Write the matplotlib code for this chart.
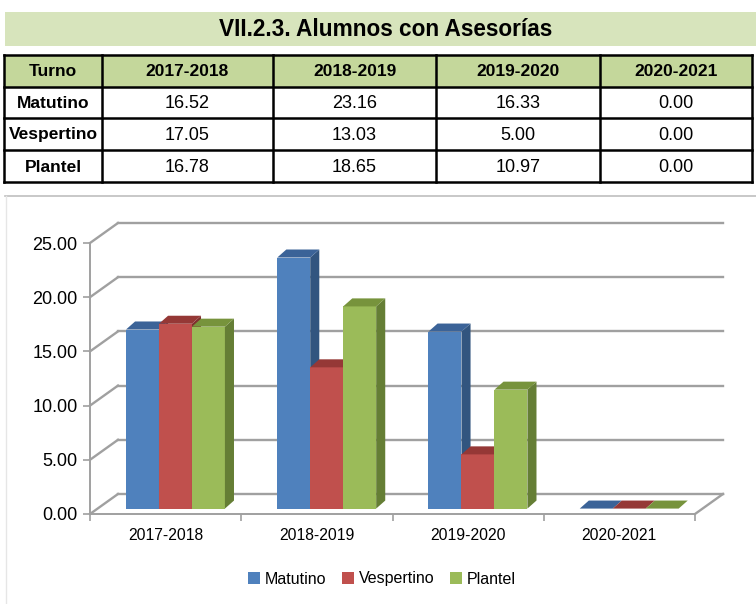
import numpy as np
import matplotlib
matplotlib.use("Agg")
import matplotlib.pyplot as plt
from matplotlib.patches import Polygon, Rectangle, Patch

# data
years = ["2017-2018", "2018-2019", "2019-2020", "2020-2021"]
turnos = ["Matutino", "Vespertino", "Plantel"]
matutino = [16.52, 23.16, 16.33, 0.00]
vespertino = [17.05, 13.03, 5.00, 0.00]
plantel = [16.78, 18.65, 10.97, 0.00]
title = "VII.2.3. Alumnos con Asesorías"
yticks = [0, 5, 10, 15, 20, 25]

front = ["#4f81bd", "#c0504d", "#9bbb59"]
top_c = ["#3b6398", "#953836", "#77933c"]
side_c = ["#32557f", "#7f302e", "#657e35"]

narrow = ["Liberation Sans Narrow", "Liberation Sans", "DejaVu Sans"]
plt.rcParams["font.family"] = ["Liberation Sans", "DejaVu Sans"]

W, H = 756, 604
fig = plt.figure(figsize=(W / 100, H / 100), dpi=100)

# layout layer in pixel units (title bar, table, chart frame)
lay = fig.add_axes([0, 0, 1, 1])
lay.set_xlim(0, W)
lay.set_ylim(H, 0)
lay.axis("off")

lay.add_patch(Rectangle((5, 12), W - 5, 34, facecolor="#d7e4bc", edgecolor="none"))
lay.text(386, 29.5, title, ha="center", va="center", fontsize=16.3,
         fontweight="bold", family=narrow)

cols = [4, 102, 273, 436, 600, 752]
rows = [55, 87, 118, 150, 182]
lay.add_patch(Rectangle((cols[0], rows[0]), cols[-1] - cols[0], rows[1] - rows[0],
                        facecolor="#c4d79b", edgecolor="none"))
for x in cols:
    lay.plot([x, x], [rows[0], rows[-1]], color="black", lw=1.8)
for y in rows:
    lay.plot([cols[0], cols[-1]], [y, y], color="black", lw=1.8)

header = ["Turno"] + years
for j, txt in enumerate(header):
    lay.text((cols[j] + cols[j + 1]) / 2, (rows[0] + rows[1]) / 2 + 1, txt,
             ha="center", va="center", fontsize=12.5, fontweight="bold", family=narrow)
for i, (name, vals) in enumerate(zip(turnos, [matutino, vespertino, plantel])):
    yc = (rows[i + 1] + rows[i + 2]) / 2 + 1
    lay.text((cols[0] + cols[1]) / 2, yc, name, ha="center", va="center",
             fontsize=12.5, fontweight="bold", family=narrow)
    for j, v in enumerate(vals):
        lay.text((cols[j + 1] + cols[j + 2]) / 2, yc, f"{v:.2f}", ha="center",
                 va="center", fontsize=13, family=narrow)

# chart frame
lay.plot([5, W], [196, 196], color="#bfbfbf", lw=1.2)
lay.plot([5.5, 5.5], [196, H], color="#e6e6e6", lw=1.0)

# chart axes: front floor edge from px 90 to 695, y=0 at px 514, y=25 at px 243
ax = fig.add_axes([90 / W, 1 - 514 / H, 605 / W, 271 / H])
ax.set_xlim(-0.5, 3.5)
ax.set_ylim(0, 25)
ax.patch.set_visible(False)

DX, DY = 0.185, 1.845      # depth of the back wall
bx, by = 0.065, 0.5        # bars sit inside the floor
w = 0.218                  # bar width
ddx, ddy = 0.06, 0.74      # bar depth

grid_c = "#a0a0a0"
for t in yticks:
    ax.plot([-0.5, -0.5 + DX], [t, t + DY], color=grid_c, lw=1.7, clip_on=False, zorder=1)
    ax.plot([-0.5 + DX, 3.5 + DX], [t + DY, t + DY], color=grid_c, lw=1.7,
            clip_on=False, zorder=1)
ax.plot([3.5, 3.5 + DX], [0, DY], color=grid_c, lw=1.7, clip_on=False, zorder=1)

x = np.arange(len(years))
series = [matutino, vespertino, plantel]
z = 3
for i in range(len(years)):
    for j, vals in enumerate(series):
        x0 = x[i] + bx + (j - 1.5) * w
        v = vals[i]
        top = by + v
        ax.bar(x0, v, width=w, bottom=by, align="edge", color=front[j], zorder=z)
        ax.add_patch(Polygon([(x0 + w, by), (x0 + w + ddx, by + ddy),
                              (x0 + w + ddx, top + ddy), (x0 + w, top)],
                             closed=True, facecolor=side_c[j], edgecolor="none", zorder=z))
        ax.add_patch(Polygon([(x0, top), (x0 + w, top), (x0 + w + ddx, top + ddy),
                              (x0 + ddx, top + ddy)],
                             closed=True, facecolor=top_c[j], edgecolor="none", zorder=z))
        z += 1

for s in ["top", "right"]:
    ax.spines[s].set_visible(False)
for s in ["left", "bottom"]:
    ax.spines[s].set_color(grid_c)
    ax.spines[s].set_linewidth(1.4)

ax.set_yticks(yticks)
ax.set_yticklabels([f"{t:.2f}" for t in yticks], fontsize=13)
ax.set_xticks(np.arange(-0.5, 4.0, 1.0))
ax.set_xticklabels([])
ax.set_xticks(x, minor=True)
ax.set_xticklabels(years, minor=True, fontsize=11.3)
ax.tick_params(axis="x", which="major", length=5, color=grid_c, width=1.2)
ax.tick_params(axis="x", which="minor", length=0, pad=10)
ax.tick_params(axis="y", length=5, color=grid_c, width=1.2, pad=4)

handles = [Patch(facecolor=c, edgecolor="none") for c in front]
fig.legend(handles, turnos, loc="center", bbox_to_anchor=(382 / W, 1 - 579 / H),
           ncol=3, frameon=False, fontsize=11.5, handlelength=0.75, handleheight=0.75,
           handletextpad=0.3, columnspacing=1.0)

fig.savefig("out.png", dpi=100)
